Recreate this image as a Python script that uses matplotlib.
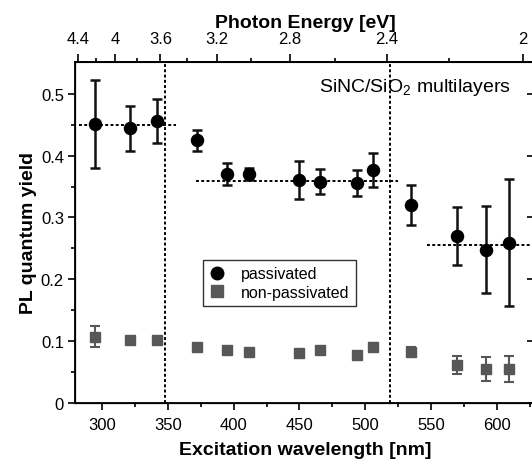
import matplotlib
matplotlib.use("Agg")
import matplotlib.pyplot as plt
from matplotlib.lines import Line2D

plt.rcParams['font.family'] = ['Liberation Sans', 'DejaVu Sans']
plt.rcParams['mathtext.fontset'] = 'custom'
plt.rcParams['mathtext.rm'] = 'Liberation Sans'
plt.rcParams['mathtext.it'] = 'Liberation Sans'

# excitation wavelengths (nm)
wavelength = [295, 321, 342, 372, 395, 412, 450, 466, 494, 506, 535, 570, 592, 609]

# passivated samples
pass_qy = [0.451, 0.444, 0.456, 0.425, 0.370, 0.370, 0.361, 0.358, 0.355, 0.377,
           0.320, 0.270, 0.248, 0.259]
pass_err = [0.071, 0.037, 0.035, 0.017, 0.018, 0.010, 0.031, 0.020, 0.021, 0.028,
            0.033, 0.047, 0.070, 0.103]

# non-passivated samples
nonpass_qy = [0.107, 0.102, 0.101, 0.091, 0.086, 0.083, 0.081, 0.086, 0.077, 0.091,
              0.083, 0.061, 0.055, 0.054]
nonpass_err = [0.017, 0.004, 0.002, 0.003, 0.003, 0.004, 0.004, 0.003, 0.003, 0.006,
               0.008, 0.015, 0.019, 0.021]

# averages per region (start, end, value) and region borders
averages = [(282.5, 356, 0.450), (371.4, 525, 0.359), (546.7, 629, 0.256)]
borders = [348.1, 518.5]

energy_ticks = [4.4, 4, 3.6, 3.2, 2.8, 2.4, 2]
energy_minor = [4.2, 3.8, 3.4, 3.0, 2.6, 2.2]

W, H = 532, 460
fig = plt.figure(figsize=(W / 100, H / 100), dpi=100)
ax = fig.add_axes([75 / W, 56.2 / H, 460 / W, 341.1 / H])

gray = '#575757'
ax.errorbar(wavelength, nonpass_qy, yerr=nonpass_err, fmt='s', color=gray,
            ms=7.5, mec=gray, ecolor=gray, elinewidth=1.5, capsize=3.5, capthick=1.5,
            zorder=3)
ax.errorbar(wavelength, pass_qy, yerr=pass_err, fmt='o', color='black',
            ms=8.7, ecolor='#111111', elinewidth=1.8, capsize=3.5, capthick=1.8,
            zorder=4)

for x0, x1, v in averages:
    ax.plot([x0, x1], [v, v], color='black', lw=1.4, ls=(0, (1.5, 1.2)), zorder=2)
for b in borders:
    ax.axvline(b, color='black', lw=1.4, ls=(0, (1.5, 1.2)), zorder=2)

ax.set_xlim(279.5, 629)
ax.set_ylim(0, 0.552)
ax.set_xticks([300, 350, 400, 450, 500, 550, 600])
ax.set_xticks(range(325, 629, 50), minor=True)
ax.set_yticks([0, 0.1, 0.2, 0.3, 0.4, 0.5])
ax.set_yticklabels(['0', '0.1', '0.2', '0.3', '0.4', '0.5'])
ax.set_yticks([0.05, 0.15, 0.25, 0.35, 0.45], minor=True)
ax.tick_params(axis='both', which='major', labelsize=12, length=5, width=1.2,
               direction='out')
ax.tick_params(axis='both', which='minor', length=3, width=1.2, direction='out')
ax.tick_params(axis='x', pad=5)
ax.tick_params(axis='y', pad=3)
for s in ax.spines.values():
    s.set_linewidth(1.3)

ax.set_xlabel('Excitation wavelength [nm]', fontsize=14, fontweight='bold', labelpad=7)
ax.set_ylabel('PL quantum yield', fontsize=14, fontweight='bold', labelpad=3)

# right axis ticks (major only, inward)
axr = ax.twinx()
axr.set_ylim(ax.get_ylim())
axr.set_yticks([0, 0.1, 0.2, 0.3, 0.4, 0.5])
axr.tick_params(axis='y', direction='in', length=6, width=1.2, labelright=False)
axr.spines['right'].set_linewidth(1.3)

# top axis in photon energy
axt = ax.twiny()
axt.set_xlim(ax.get_xlim())
axt.set_xticks([1240 / e for e in energy_ticks])
axt.set_xticklabels([f'{e:g}' for e in energy_ticks])
axt.set_xticks([1240 / e for e in energy_minor], minor=True)
axt.tick_params(axis='x', which='major', labelsize=12, length=6, width=1.2, pad=5)
axt.tick_params(axis='x', which='minor', length=3, width=1.2)
axt.spines['top'].set_linewidth(1.3)
axt.set_xlabel('Photon Energy [eV]', fontsize=14, fontweight='bold', labelpad=3)

fig.text(415 / W, 1 - 87 / H, r'SiNC/SiO$_2$ multilayers', fontsize=14,
         ha='center', va='center')

handles = [
    Line2D([], [], marker='o', ls='none', color='black', ms=9),
    Line2D([], [], marker='s', ls='none', color=gray, ms=8),
]
leg = ax.legend(handles, ['passivated', 'non-passivated'], loc='upper left',
                bbox_to_anchor=(203 / W, 1 - 261 / H), bbox_transform=fig.transFigure,
                borderaxespad=0, fontsize=11.5, frameon=True, fancybox=False,
                edgecolor='black', handlelength=1.0, handletextpad=1.0,
                labelspacing=0.2, borderpad=0.4)
leg.get_frame().set_linewidth(1.0)
leg.set_zorder(5)

fig.savefig('out.png', dpi=100)
